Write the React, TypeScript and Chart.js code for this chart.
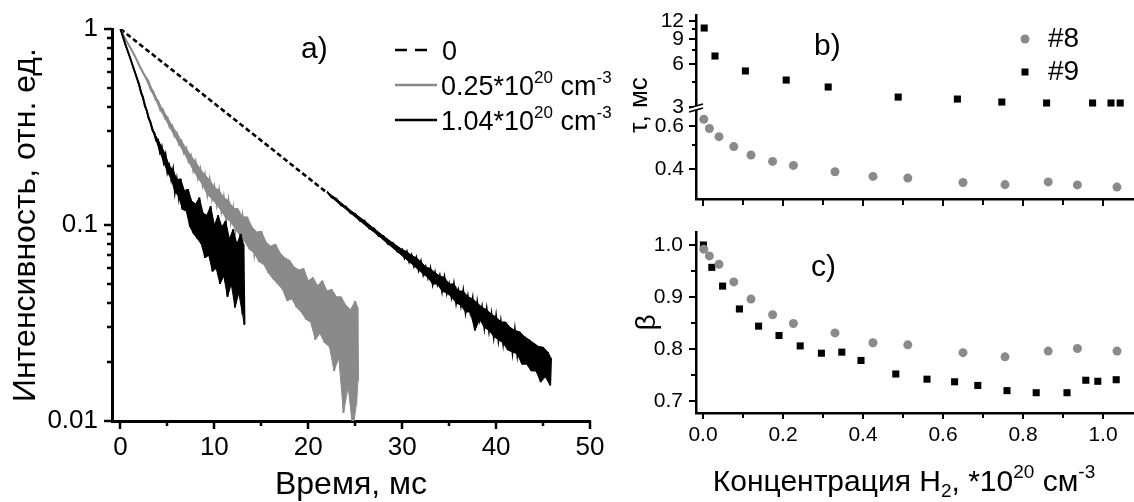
import React, { useEffect, useRef } from 'react';
import { Chart, registerables } from 'chart.js';

Chart.register(...registerables);

const FONT = '"Liberation Sans", Arial, Helvetica, sans-serif';
const GREY = '#8a8a8a';

// ---------- Panel a: decay curves [time, ms ; intensity, rel. units] ----------
// noisy traces are read as alternating upper / lower excursions of the noise band
const curve0Dashed: [number, number][] = [
  [0, 1], [2, 0.839], [4, 0.705], [6, 0.592], [8, 0.497], [10, 0.417], [12, 0.35],
  [14, 0.294], [16, 0.247], [18, 0.207], [20, 0.174], [22, 0.146],
];
const curve0Tail: [number, number][] = [
  [22, 0.148], [22.5, 0.138], [23, 0.136], [23.5, 0.126], [24, 0.124], [24.5, 0.115], [25, 0.114],
  [25.5, 0.105], [26, 0.105], [26.5, 0.096], [27, 0.096], [27.5, 0.088], [28, 0.088], [28.5, 0.08],
  [29, 0.081], [29.5, 0.073], [30, 0.075],
  [30.25, 0.068], [30.5, 0.073], [30.75, 0.065], [31, 0.07], [31.25, 0.062], [31.5, 0.068], [31.75, 0.059],
  [32, 0.065], [32.25, 0.056], [32.5, 0.061], [32.75, 0.054], [33, 0.06], [33.25, 0.05], [33.5, 0.057],
  [33.75, 0.05], [34, 0.055], [34.25, 0.046], [34.5, 0.054], [34.75, 0.045], [35, 0.05], [35.25, 0.043],
  [35.5, 0.05], [35.75, 0.04], [36, 0.046], [36.25, 0.039], [36.5, 0.046], [36.75, 0.036], [37, 0.043],
  [37.25, 0.036], [37.5, 0.042], [37.75, 0.029], [38, 0.04], [38.25, 0.033], [38.5, 0.038], [38.75, 0.03],
  [39, 0.037], [39.25, 0.029], [39.5, 0.035], [39.75, 0.027], [40, 0.034], [40.25, 0.026], [40.5, 0.032],
  [40.75, 0.025], [41, 0.032], [41.25, 0.023], [41.5, 0.03], [41.75, 0.0225], [42, 0.029], [42.25, 0.022],
  [42.5, 0.0285], [42.75, 0.0195], [43, 0.027], [43.25, 0.0195], [43.5, 0.026], [43.75, 0.018],
  [44, 0.025], [44.25, 0.018], [44.5, 0.024], [44.75, 0.0158], [45, 0.0238], [45.25, 0.0168],
  [45.5, 0.0225], [45.75, 0.0152], [45.85, 0.021],
];
const curve025: [number, number][] = [
  [0, 1], [0.5, 0.89], [1, 0.813], [1.5, 0.733], [2, 0.653], [2.5, 0.586],
  [3, 0.54], [3.25, 0.485], [3.5, 0.48], [3.75, 0.435], [4, 0.43], [4.25, 0.385], [4.5, 0.39], [4.75, 0.35],
  [5, 0.354], [5.25, 0.315], [5.5, 0.322], [5.75, 0.285], [6, 0.295], [6.25, 0.258], [6.5, 0.268], [6.75, 0.234],
  [7, 0.246], [7.25, 0.212], [7.5, 0.226], [7.75, 0.19], [8, 0.21],
  [8.25, 0.174], [8.5, 0.193], [8.75, 0.16], [9, 0.18], [9.25, 0.143], [9.5, 0.17], [9.75, 0.136],
  [10, 0.156], [10.25, 0.127], [10.5, 0.15], [10.75, 0.118], [11, 0.138], [11.25, 0.108], [11.5, 0.133],
  [11.75, 0.104], [12, 0.122], [12.25, 0.095], [12.5, 0.121], [12.75, 0.088], [13, 0.11], [13.25, 0.082],
  [13.5, 0.11], [13.75, 0.075], [14, 0.098], [14.25, 0.072], [14.5, 0.092], [14.75, 0.065], [15, 0.093],
  [15.25, 0.063], [15.5, 0.082], [15.75, 0.057], [16, 0.078], [16.25, 0.053], [16.5, 0.08], [16.75, 0.05],
  [17, 0.072], [17.25, 0.047], [17.5, 0.068], [17.75, 0.041], [18, 0.066], [18.25, 0.042], [18.5, 0.061],
  [18.75, 0.038], [19, 0.059], [19.25, 0.036], [19.5, 0.06], [19.75, 0.033], [20, 0.052], [20.25, 0.032],
  [20.5, 0.054], [20.75, 0.026], [21, 0.049], [21.25, 0.028], [21.5, 0.052], [21.75, 0.025], [22, 0.046],
  [22.25, 0.024], [22.5, 0.047], [22.75, 0.018], [23, 0.043], [23.25, 0.021], [23.5, 0.043], [23.75, 0.011],
  [24, 0.039], [24.25, 0.015], [24.5, 0.037], [24.75, 0.009], [25, 0.041], [25.1, 0.012], [25.25, 0.038],
  [25.3, 0.016],
];
const curve104: [number, number][] = [
  [0, 1], [0.5, 0.84], [1, 0.72], [1.5, 0.61], [2, 0.52], [2.2, 0.47], [2.4, 0.45], [2.6, 0.405], [2.8, 0.385],
  [3, 0.35], [3.2, 0.335], [3.4, 0.305], [3.6, 0.295], [3.8, 0.27], [4, 0.272], [4.2, 0.236], [4.4, 0.25],
  [4.6, 0.21], [4.8, 0.228], [5, 0.186], [5.2, 0.2], [5.4, 0.172], [5.6, 0.192], [5.8, 0.148], [6, 0.17],
  [6.2, 0.14], [6.4, 0.172], [6.6, 0.12], [6.8, 0.15], [7, 0.118], [7.2, 0.152], [7.4, 0.098], [7.6, 0.132],
  [7.8, 0.09], [8, 0.128], [8.2, 0.085], [8.4, 0.138], [8.6, 0.08], [8.8, 0.115], [9, 0.068], [9.2, 0.112],
  [9.4, 0.07], [9.6, 0.125], [9.8, 0.058], [10, 0.1], [10.2, 0.06], [10.4, 0.112], [10.6, 0.05],
  [10.8, 0.098], [11, 0.055], [11.2, 0.105], [11.4, 0.043], [11.6, 0.085], [11.8, 0.05], [12, 0.095],
  [12.2, 0.038], [12.4, 0.08], [12.6, 0.045], [12.8, 0.09], [13, 0.035], [13.1, 0.08], [13.2, 0.031],
];
const xTicksA = [0, 10, 20, 30, 40, 50];
const xMinorA = [5, 15, 25, 35, 45];
const yTicksA = [0.01, 0.1, 1];
const yTickLabelsA = ['0.01', '0.1', '1'];
const yMinorA = [0.02, 0.03, 0.04, 0.05, 0.06, 0.07, 0.08, 0.09, 0.2, 0.3, 0.4, 0.5, 0.6, 0.7, 0.8, 0.9];

// ---------- Panels b, c: vs H2 concentration (*10^20 cm^-3) ----------
const conc8 = [0.002, 0.016, 0.04, 0.077, 0.12, 0.174, 0.226, 0.33, 0.425, 0.512, 0.65, 0.755, 0.863, 0.936, 1.035];
const tau8 = [0.641, 0.587, 0.543, 0.494, 0.456, 0.429, 0.413, 0.389, 0.372, 0.366, 0.351, 0.344, 0.353, 0.343, 0.336];
const beta8 = [0.992, 0.979, 0.963, 0.929, 0.896, 0.866, 0.849, 0.831, 0.812, 0.808, 0.793, 0.785, 0.796, 0.801, 0.796];
const conc9tau = [0.003, 0.03, 0.106, 0.208, 0.313, 0.488, 0.636, 0.747, 0.859, 0.974, 1.02, 1.043];
const tau9 = [10.7, 6.82, 5.36, 4.63, 4.14, 3.52, 3.41, 3.25, 3.2, 3.2, 3.2, 3.2];
const conc9beta = [0.001, 0.022, 0.049, 0.091, 0.139, 0.19, 0.243, 0.296, 0.347, 0.395, 0.482, 0.56, 0.629, 0.687, 0.76, 0.833, 0.91, 0.957, 0.987, 1.033];
const beta9 = [1.0, 0.957, 0.921, 0.877, 0.844, 0.826, 0.806, 0.792, 0.794, 0.778, 0.752, 0.742, 0.737, 0.73, 0.72, 0.716, 0.716, 0.74, 0.738, 0.741];
const xTicksBC = [0, 0.2, 0.4, 0.6, 0.8, 1.0];
const xTickLabelsBC = ['0.0', '0.2', '0.4', '0.6', '0.8', '1.0'];
const xMinorBC = [0.1, 0.3, 0.5, 0.7, 0.9];
const yTicksBTop = [3, 6, 9, 12];
const yTickLabelsBTop = ['3', '6', '9', '12'];
const yMinorBTop = [4.5, 7.5, 10.5];
const yTicksBBot = [0.4, 0.6];
const yTickLabelsBBot = ['0.4', '0.6'];
const yMinorBBot = [0.5];
const yTicksC = [0.7, 0.8, 0.9, 1.0];
const yTickLabelsC = ['0.7', '0.8', '0.9', '1.0'];
const yMinorC = [0.75, 0.85, 0.95];
const legendA = ['0', '0.25*10', '1.04*10'];
const legendB = ['#8', '#9'];

// ---------- helpers ----------
const labelFor = (v: number, ticks: number[], labels: string[]) => {
  const i = ticks.findIndex((t) => Math.abs(t - v) < 1e-9);
  return i >= 0 ? labels[i] : '';
};

type Mark = { id: string; major: number[]; minor: number[]; majorLen: number; minorLen: number };
function drawMarks(chart: any, marks: Mark[], width: number) {
  const ctx = chart.ctx;
  ctx.save();
  ctx.strokeStyle = '#000';
  ctx.lineWidth = width;
  for (const m of marks) {
    const s = chart.scales[m.id];
    const one = (v: number, len: number) => {
      const p = Math.round(s.getPixelForValue(v));
      ctx.beginPath();
      if (s.isHorizontal()) {
        ctx.moveTo(p, s.top);
        ctx.lineTo(p, s.top + len);
      } else {
        ctx.moveTo(s.right - len, p);
        ctx.lineTo(s.right, p);
      }
      ctx.stroke();
    };
    m.major.forEach((v) => one(v, m.majorLen));
    m.minor.forEach((v) => one(v, m.minorLen));
  }
  ctx.restore();
}

type Seg = [string, number]; // 0 normal, 1 superscript, 2 subscript
function drawRich(ctx: CanvasRenderingContext2D, segs: Seg[], x: number, yMid: number, size: number, align: 'left' | 'center') {
  const small = Math.round(size * 0.62);
  const widths = segs.map(([t, k]) => {
    ctx.font = `${k === 0 ? size : small}px ${FONT}`;
    return ctx.measureText(t).width;
  });
  const total = widths.reduce((a, b) => a + b, 0);
  let cx = align === 'center' ? x - total / 2 : x;
  const base = yMid + size * 0.36;
  ctx.save();
  ctx.fillStyle = '#000';
  ctx.textAlign = 'left';
  ctx.textBaseline = 'alphabetic';
  segs.forEach(([t, k], i) => {
    ctx.font = `${k === 0 ? size : small}px ${FONT}`;
    const dy = k === 1 ? -size * 0.42 : k === 2 ? size * 0.22 : 0;
    ctx.fillText(t, cx, base + dy);
    cx += widths[i];
  });
  ctx.restore();
}

function plainText(ctx: CanvasRenderingContext2D, t: string, x: number, y: number, size: number, align: CanvasTextAlign = 'left', rot = 0) {
  ctx.save();
  ctx.translate(x, y);
  if (rot) ctx.rotate(rot);
  ctx.font = `${size}px ${FONT}`;
  ctx.fillStyle = '#000';
  ctx.textAlign = align;
  ctx.textBaseline = 'middle';
  ctx.fillText(t, 0, 0);
  ctx.restore();
}

const tickFont = (size: number) => ({ family: FONT, size });
const noGrid = { display: false, drawTicks: false };

export default function App() {
  const refA = useRef<HTMLCanvasElement>(null);
  const refB = useRef<HTMLCanvasElement>(null);
  const refC = useRef<HTMLCanvasElement>(null);

  useEffect(() => {
    const toXY = (arr: [number, number][]) => arr.map(([x, y]) => ({ x, y }));
    const line = (data: [number, number][], color: string, width: number, dash: number[] = [], fill: any = false) => ({
      data: toXY(data), showLine: true, borderColor: color, backgroundColor: color, borderWidth: width,
      borderDash: dash, pointRadius: 0, tension: 0, fill,
    });
    // upper (even) and lower (odd) excursions of a noisy trace -> noise band
    const upper = (arr: [number, number][]) => arr.filter((_, i) => i % 2 === 0);
    const lower = (arr: [number, number][]) => arr.filter((_, i) => i % 2 === 1);

    // ----- panel a -----
    const plugA = {
      id: 'decorA',
      afterDraw(chart: any) {
        const ctx = chart.ctx as CanvasRenderingContext2D;
        drawMarks(chart, [
          { id: 'x', major: xTicksA, minor: xMinorA, majorLen: 8, minorLen: 5 },
          { id: 'y', major: yTicksA, minor: yMinorA, majorLen: 8, minorLen: 5 },
        ], 2.5);
        plainText(ctx, 'a)', 301, 50, 30);
        const rows = [50, 85, 120];
        ctx.save();
        ctx.lineWidth = 2.5;
        ctx.strokeStyle = '#000';
        ctx.setLineDash([12, 8]);
        ctx.beginPath(); ctx.moveTo(395, rows[0]); ctx.lineTo(427, rows[0]); ctx.stroke();
        ctx.setLineDash([]);
        ctx.strokeStyle = GREY;
        ctx.beginPath(); ctx.moveTo(395, rows[1]); ctx.lineTo(437, rows[1]); ctx.stroke();
        ctx.strokeStyle = '#000';
        ctx.beginPath(); ctx.moveTo(395, rows[2]); ctx.lineTo(437, rows[2]); ctx.stroke();
        ctx.restore();
        drawRich(ctx, [[legendA[0], 0]], 442, rows[0], 27, 'left');
        drawRich(ctx, [[legendA[1], 0], ['20', 1], [' cm', 0], ['-3', 1]], 441, rows[1], 27, 'left');
        drawRich(ctx, [[legendA[2], 0], ['20', 1], [' cm', 0], ['-3', 1]], 441, rows[2], 27, 'left');
      },
    };
    const chartA = new Chart(refA.current!, {
      type: 'scatter',
      data: {
        datasets: [
          line(curve104, '#000', 2),
          line(lower(curve104), '#000', 1),
          line(upper(curve104), '#000', 1, [], 1),
          line(curve025, GREY, 2),
          line(lower(curve025), GREY, 1),
          line(upper(curve025), GREY, 1, [], 4),
          line(curve0Tail, '#000', 2),
          line(lower(curve0Tail), '#000', 1),
          line(upper(curve0Tail), '#000', 1, [], 7),
          line(curve0Dashed, '#000', 2.6, [5, 3]),
        ] as any,
      },
      options: {
        responsive: false,
        animation: false,
        events: [],
        layout: { padding: { top: 29, right: 50, left: 0, bottom: 0 }, autoPadding: false },
        plugins: { legend: { display: false }, tooltip: { enabled: false }, filler: { propagate: false } },
        scales: {
          x: {
            type: 'linear', min: -0.9, max: 50,
            grid: noGrid, border: { display: true, color: '#000', width: 3 },
            ticks: { font: tickFont(26), color: '#000', padding: 11, maxRotation: 0, autoSkip: false, callback: (v: any) => String(v) },
            afterBuildTicks: (s: any) => { s.ticks = xTicksA.map((value) => ({ value })); },
            afterFit: (s: any) => { s.height = 81; s.paddingLeft = 0; s.paddingRight = 0; },
            title: { display: true, text: 'Время, мс', font: { family: FONT, size: 32 }, color: '#000', padding: { top: 0, bottom: -2 } },
          },
          y: {
            type: 'logarithmic', min: 0.01, max: 1,
            grid: noGrid, border: { display: true, color: '#000', width: 3 },
            ticks: { font: tickFont(26), color: '#000', padding: 14, autoSkip: false, callback: (v: any) => labelFor(Number(v), yTicksA, yTickLabelsA) },
            afterBuildTicks: (s: any) => { s.ticks = yTicksA.map((value) => ({ value })); },
            afterFit: (s: any) => { s.width = 112; s.paddingTop = 0; s.paddingBottom = 0; },
            title: { display: true, text: 'Интенсивность, отн. ед.', font: { family: FONT, size: 32 }, color: '#000', padding: { top: 7, bottom: 0 } },
          },
        },
      } as any,
      plugins: [plugA],
    });

    // ----- panel b -----
    const plugB = {
      id: 'decorB',
      afterDraw(chart: any) {
        const ctx = chart.ctx as CanvasRenderingContext2D;
        drawMarks(chart, [
          { id: 'x', major: xTicksBC, minor: xMinorBC, majorLen: 7, minorLen: 6 },
          { id: 'yTop', major: yTicksBTop, minor: yMinorBTop, majorLen: 7, minorLen: 4 },
          { id: 'yBot', major: yTicksBBot, minor: yMinorBBot, majorLen: 7, minorLen: 4 },
        ], 2);
        // axis break
        const sTop = chart.scales.yTop;
        const bx = sTop.right;
        const by = sTop.bottom;
        ctx.save();
        ctx.fillStyle = '#fff';
        ctx.beginPath();
        ctx.moveTo(bx - 7, by + 1); ctx.lineTo(bx + 7, by - 3); ctx.lineTo(bx + 7, by + 1); ctx.lineTo(bx - 7, by + 5);
        ctx.closePath(); ctx.fill();
        ctx.strokeStyle = '#000';
        ctx.lineWidth = 1.8;
        ctx.beginPath(); ctx.moveTo(bx - 7, by + 1); ctx.lineTo(bx + 7, by - 3); ctx.stroke();
        ctx.beginPath(); ctx.moveTo(bx - 7, by + 5); ctx.lineTo(bx + 7, by + 1); ctx.stroke();
        ctx.restore();
        plainText(ctx, 'τ, мс', 40, 105, 26, 'center', -Math.PI / 2);
        plainText(ctx, 'b)', 214, 47, 30);
        // legend
        ctx.save();
        ctx.fillStyle = GREY;
        ctx.beginPath(); ctx.arc(425, 39, 4.5, 0, Math.PI * 2); ctx.fill();
        ctx.fillStyle = '#000';
        ctx.fillRect(421.5, 68.5, 7, 7);
        ctx.restore();
        plainText(ctx, legendB[0], 448, 39, 28);
        plainText(ctx, legendB[1], 448, 72, 28);
      },
    };
    const chartB = new Chart(refB.current!, {
      type: 'scatter',
      data: {
        datasets: [
          { data: conc8.map((x, i) => ({ x, y: tau8[i] })), yAxisID: 'yBot', pointStyle: 'circle', pointRadius: 4.5, backgroundColor: GREY, borderWidth: 0 },
          { data: conc9tau.map((x, i) => ({ x, y: tau9[i] })), yAxisID: 'yTop', pointStyle: 'rect', pointRadius: 5, backgroundColor: '#000', borderWidth: 0 },
        ] as any,
      },
      options: {
        responsive: false,
        animation: false,
        events: [],
        layout: { padding: { top: 15, right: 0, left: 0, bottom: 0 }, autoPadding: false },
        plugins: { legend: { display: false }, tooltip: { enabled: false } },
        scales: {
          x: {
            type: 'linear', min: -0.0175, max: 1.0775,
            grid: noGrid, border: { display: true, color: '#000', width: 2.5 },
            ticks: { display: false },
            afterFit: (s: any) => { s.height = 16; s.paddingLeft = 0; s.paddingRight = 0; },
          },
          yBot: {
            type: 'logarithmic', position: 'left', stack: 'b', stackWeight: 1, min: 0.3, max: 0.72,
            grid: noGrid, border: { display: true, color: '#000', width: 2.5 },
            ticks: { font: tickFont(21), color: '#000', padding: 12, autoSkip: false, callback: (v: any) => labelFor(Number(v), yTicksBBot, yTickLabelsBBot) },
            afterBuildTicks: (s: any) => { s.ticks = yTicksBBot.map((value) => ({ value })); },
            afterFit: (s: any) => { s.width = 96; s.paddingTop = 0; s.paddingBottom = 0; },
          },
          yTop: {
            type: 'logarithmic', position: 'left', stack: 'b', stackWeight: 1, min: 3, max: 13.2,
            grid: noGrid, border: { display: true, color: '#000', width: 2.5 },
            ticks: { font: tickFont(21), color: '#000', padding: 12, autoSkip: false, callback: (v: any) => labelFor(Number(v), yTicksBTop, yTickLabelsBTop) },
            afterBuildTicks: (s: any) => { s.ticks = yTicksBTop.map((value) => ({ value })); },
            afterFit: (s: any) => { s.width = 96; s.paddingTop = 0; s.paddingBottom = 0; },
          },
        },
      } as any,
      plugins: [plugB],
    });

    // ----- panel c -----
    const plugC = {
      id: 'decorC',
      afterDraw(chart: any) {
        const ctx = chart.ctx as CanvasRenderingContext2D;
        drawMarks(chart, [
          { id: 'x', major: xTicksBC, minor: xMinorBC, majorLen: 6, minorLen: 5 },
          { id: 'y', major: yTicksC, minor: yMinorC, majorLen: 7, minorLen: 5 },
        ], 2);
        plainText(ctx, 'c)', 211, 53, 30);
        drawRich(ctx, [['Концентрация H', 0], ['2', 2], [', *10', 0], ['20', 1], [' см', 0], ['-3', 1]], 304, 265, 30, 'center');
      },
    };
    const chartC = new Chart(refC.current!, {
      type: 'scatter',
      data: {
        datasets: [
          { data: conc8.map((x, i) => ({ x, y: beta8[i] })), pointStyle: 'circle', pointRadius: 4.5, backgroundColor: GREY, borderWidth: 0 },
          { data: conc9beta.map((x, i) => ({ x, y: beta9[i] })), pointStyle: 'rect', pointRadius: 5, backgroundColor: '#000', borderWidth: 0 },
        ] as any,
      },
      options: {
        responsive: false,
        animation: false,
        events: [],
        layout: { padding: { top: 17, right: 0, left: 0, bottom: 0 }, autoPadding: false },
        plugins: { legend: { display: false }, tooltip: { enabled: false } },
        scales: {
          x: {
            type: 'linear', min: -0.0175, max: 1.0775,
            grid: noGrid, border: { display: true, color: '#000', width: 2.5 },
            ticks: { font: tickFont(21), color: '#000', padding: 10, maxRotation: 0, autoSkip: false, callback: (v: any) => labelFor(Number(v), xTicksBC, xTickLabelsBC) },
            afterBuildTicks: (s: any) => { s.ticks = xTicksBC.map((value) => ({ value })); },
            afterFit: (s: any) => { s.height = 89; s.paddingLeft = 0; s.paddingRight = 0; },
          },
          y: {
            type: 'linear', min: 0.677, max: 1.025,
            grid: noGrid, border: { display: true, color: '#000', width: 2.5 },
            ticks: { font: tickFont(21), color: '#000', padding: 13, autoSkip: false, callback: (v: any) => labelFor(Number(v), yTicksC, yTickLabelsC) },
            afterBuildTicks: (s: any) => { s.ticks = yTicksC.map((value) => ({ value })); },
            afterFit: (s: any) => { s.width = 96; s.paddingTop = 0; s.paddingBottom = 0; },
            title: { display: true, text: 'β', font: { family: FONT, size: 28 }, color: '#000', padding: { top: 30, bottom: 0 } },
          },
        },
      } as any,
      plugins: [plugC],
    });

    return () => {
      chartA.destroy();
      chartB.destroy();
      chartC.destroy();
    };
  }, []);

  return (
    <div style={{ position: 'absolute', left: 0, top: 0, width: 1134, height: 502, background: '#fff', overflow: 'hidden' }}>
      <canvas ref={refA} width={640} height={502} style={{ position: 'absolute', left: 0, top: 0 }} />
      <canvas ref={refB} width={534} height={215} style={{ position: 'absolute', left: 600, top: 0 }} />
      <canvas ref={refC} width={534} height={287} style={{ position: 'absolute', left: 600, top: 215 }} />
    </div>
  );
}
